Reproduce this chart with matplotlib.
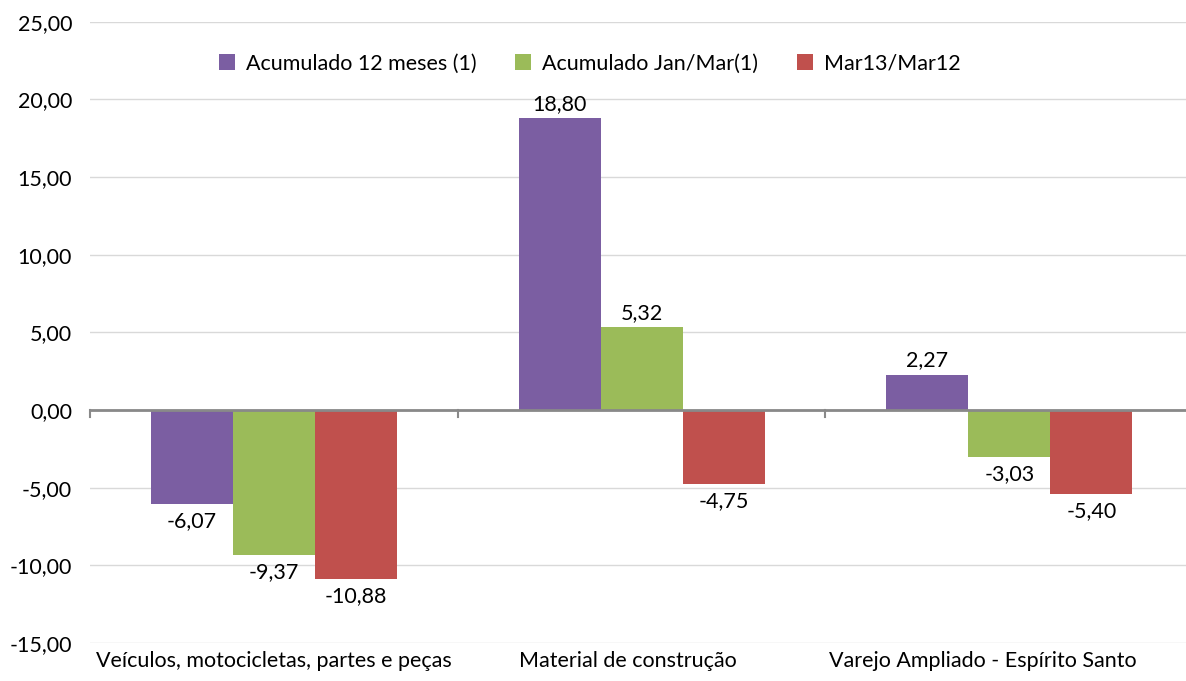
import matplotlib.pyplot as plt
import matplotlib.transforms as mtransforms
import numpy as np

categories = ["Veículos, motocicletas, partes e peças",
              "Material de construção",
              "Varejo Ampliado - Espírito Santo"]
series_names = ["Acumulado 12 meses (1)", "Acumulado Jan/Mar(1)", "Mar13/Mar12"]
acum_12m = [-6.07, 18.80, 2.27]
acum_jan_mar = [-9.37, 5.32, -3.03]
mar13_mar12 = [-10.88, -4.75, -5.40]
colors = ["#7B5EA2", "#9BBB59", "#C0504D"]

plt.rcParams['font.family'] = ['Lato', 'DejaVu Sans']
FS = 15.5

fig = plt.figure(figsize=(11.86, 6.81), dpi=100)
ax = fig.add_axes([0.076, 0.056, 0.93, 0.912])

x = np.arange(len(categories))
w = 0.223
for i, (vals, name, c) in enumerate(zip([acum_12m, acum_jan_mar, mar13_mar12], series_names, colors)):
    pos = x + (i - 1) * w
    ax.bar(pos, vals, w, color=c, label=name, zorder=3)
    for px, v in zip(pos, vals):
        txt = f"{v:.2f}".replace(".", ",")
        if v >= 0:
            ax.annotate(txt, (px, v), xytext=(0, 3), textcoords="offset points",
                        ha="center", va="bottom", fontsize=FS)
        else:
            ax.annotate(txt, (px, v), xytext=(0, -5), textcoords="offset points",
                        ha="center", va="top", fontsize=FS)

ax.set_ylim(-15, 25)
ax.set_xlim(-0.5, 2.5)
ax.set_yticks(np.arange(-15, 26, 5))
ax.set_yticklabels([f"{v:.2f}".replace(".", ",") for v in np.arange(-15, 26, 5)], fontsize=FS)
ax.grid(axis="y", color="#D9D9D9", linewidth=1, zorder=0)
ax.axhline(0, color="#898989", linewidth=2, zorder=4)
for b in [-0.5, 0.5, 1.5, 2.5]:
    ax.plot([b, b], [0, -0.45], color="#898989", linewidth=1.5, zorder=4, clip_on=False)

ax.set_xticks(x)
ax.set_xticklabels(categories, fontsize=FS)
ax.tick_params(axis="both", length=0)
ax.tick_params(axis="y", pad=13)
ax.tick_params(axis="x", pad=6)
# the original labels sit a bit left of the bar groups
for lbl, dx in zip(ax.get_xticklabels(), [0, -14, -26]):
    lbl.set_transform(lbl.get_transform() + mtransforms.ScaledTranslation(dx / 100, 0, fig.dpi_scale_trans))
for s in ax.spines.values():
    s.set_visible(False)

ax.legend(loc="upper center", bbox_to_anchor=(0.453, 0.98), ncol=3, frameon=False,
          fontsize=FS, handlelength=0.75, handleheight=0.75, handletextpad=0.5, columnspacing=1.8)

fig.savefig("out.png", dpi=100)
